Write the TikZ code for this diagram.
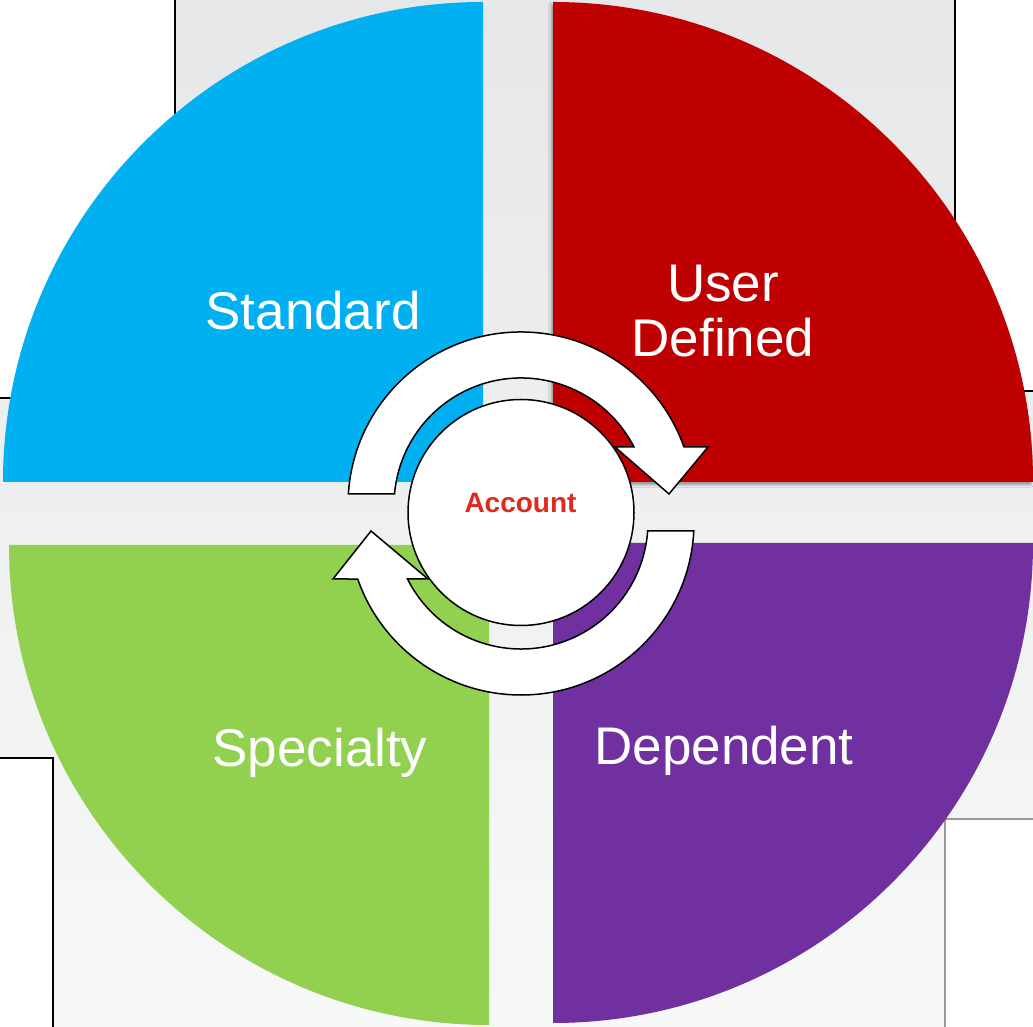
\documentclass[tikz,border=0pt]{standalone}
\usepackage{fontspec}
\setmainfont{Liberation Sans}
\usetikzlibrary{shadows.blur}
\definecolor{qblue}{HTML}{00B0F0}
\definecolor{qred}{HTML}{BF0000}
\definecolor{qgreen}{HTML}{92D050}
\definecolor{qpurple}{HTML}{7030A0}
\definecolor{acred}{HTML}{DF2A1E}
\definecolor{bgtop}{HTML}{E6E7E8}
\definecolor{bgbot}{HTML}{F7F8F8}
\tikzset{
  cornerline/.style={draw=black, line width=1.6pt},
  cornerlinegray/.style={draw=black!40, line width=1.6pt},
  cyclearrow/.style={draw=black, fill=white, line width=1.5pt, line join=miter},
  quadlabel/.style={text=white, font=\fontsize{53}{55}\selectfont, anchor=base, inner sep=0pt},
}
\begin{document}
\begin{tikzpicture}[x=1pt,y=1pt]
\useasboundingbox (0,0) rectangle (1033,1027);
% background
\shade[top color=bgtop, bottom color=bgbot] (0,0) rectangle (1033,1027);
% white corner panels
\fill[white] (0,629) rectangle (175,1027);
\draw[cornerline] (175,1027) -- (175,629) -- (0,629);
\fill[white] (955,636) rectangle (1033,1027);
\draw[cornerline] (955,1027) -- (955,636) -- (1033,636);
\fill[white] (0,0) rectangle (53,269);
\draw[cornerline] (0,269) -- (53,269) -- (53,0);
\fill[white] (945,0) rectangle (1033,208);
\draw[cornerlinegray] (945,0) -- (945,208) -- (1033,208);
% quadrants
\fill[qblue] (483,545) -- (3,545) arc[start angle=180, end angle=90, radius=480] -- cycle;
\fill[qred, blur shadow={shadow xshift=-2pt, shadow yshift=-3pt, shadow blur steps=6, shadow opacity=35}]
  (553,545) -- (553,1025) arc[start angle=90, end angle=0, radius=480] -- cycle;
\fill[qgreen] (489,482) -- (489,2) arc[start angle=270, end angle=180, radius=480] -- cycle;
\fill[qpurple] (553,484) -- (1033,484) arc[start angle=0, end angle=-90, radius=480] -- cycle;
% top cycle arrow (centre 521,522)
\path[cyclearrow] (394.5,533) -- (348.35,533)
  arc[start angle=176.36, end angle=19.6, radius=173]
  -- (708,580) -- (669,533) -- (615,580) -- (634,580)
  arc[start angle=27.17, end angle=175.03, radius=127] -- cycle;
% bottom cycle arrow (centre 521,505)
\path[cyclearrow] (647.7,496) -- (693.8,496)
  arc[start angle=-2.98, end angle=-160.76, radius=173]
  -- (333,448) -- (371,496) -- (428,448) -- (407.5,448)
  arc[start angle=-153.33, end angle=-4.06, radius=127] -- cycle;
% centre circle
\node[circle, draw=black, fill=white, line width=1.5pt, minimum size=226pt, inner sep=0pt] (acct) at (521,514.5) {};
\node[anchor=base, inner sep=0pt, text=acred, font=\fontsize{28}{30}\selectfont\bfseries] (acctlabel) at (520.5,514) {Account};
% labels
\node[quadlabel] (std) at (313,697) {Standard};
\node[quadlabel] (ud1) at (723,725) {User};
\node[quadlabel] (ud2) at (723,670) {Defined};
\node[quadlabel] (spc) at (320,260) {Specialty};
\node[quadlabel] (dep) at (724,262) {Dependent};
\end{tikzpicture}
\end{document}
